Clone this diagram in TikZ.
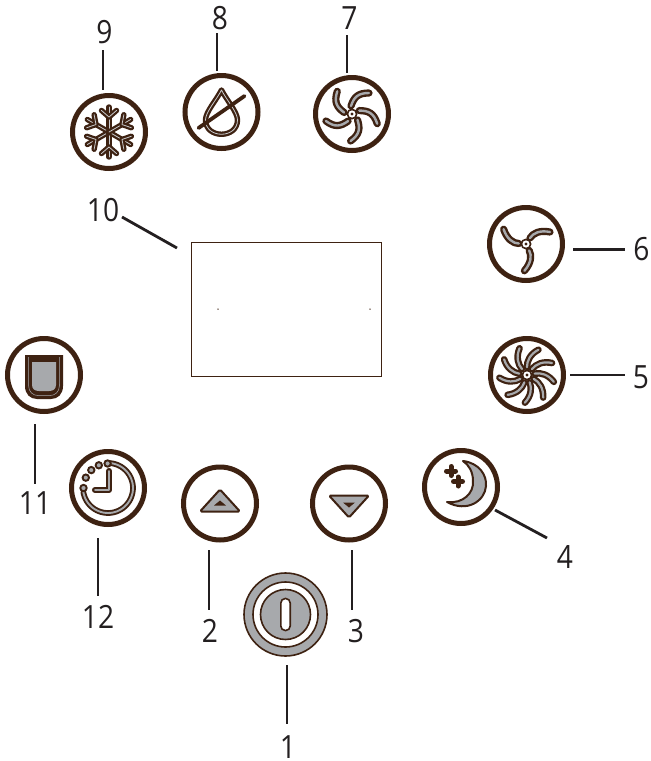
\documentclass[tikz,border=0pt]{standalone}
\usepackage{fontspec}
\setmainfont[FakeStretch=0.88]{Open Sans}
\definecolor{brn}{HTML}{3E2212}
\definecolor{gry}{HTML}{A7A9AC}
\definecolor{lnk}{HTML}{231F20}
\tikzset{
 btn/.style={circle,draw=brn,line width=5pt,fill=white,minimum size=73pt,inner sep=0pt,outer sep=0pt},
 lab/.style={font=\fontsize{32}{32}\selectfont,text=lnk,inner sep=0pt},
 conn/.style={draw=lnk,line width=2.8pt},
 blade/.style={draw=brn,line width=2.4pt,double=gry,double distance=2.4pt,line cap=round,line join=round},
 thinb/.style={draw=brn,line width=2.3pt,double=gry!60!white,double distance=0.8pt,line cap=round,line join=round},
 sym/.style={draw=brn,line width=2pt,fill=gry,line join=round},
}
\newcommand{\hubmark}{\fill[brn] (0,0) circle[radius=5.5pt]; \fill[white] (0,0) circle[radius=3.6pt]; \fill[brn] (0,0) circle[radius=1.6pt];}
\begin{document}
\begin{tikzpicture}[x=1pt,y=-1pt]
\useasboundingbox (0,0) rectangle (651,761);
% buttons
\node[btn] (b9) at (109,132) {};
\node[btn] (b8) at (221.5,112) {};
\node[btn] (b7) at (352,114) {};
\node[btn] (b6) at (526,244) {};
\node[btn] (b5) at (527,375) {};
\node[btn] (b4) at (461,487) {};
\node[btn] (b3) at (349,503.5) {};
\node[btn] (b2) at (220,503.5) {};
\node[btn] (b12) at (108,488) {};
\node[btn] (b11) at (44,375) {};
\node[circle,draw=brn,line width=1.6pt,fill=gry,minimum size=83pt,inner sep=0pt] (b1) at (285.5,614.5) {};
\node[draw=brn,line width=0.8pt,minimum width=190pt,minimum height=134pt,inner sep=0pt] (screen) at (286,309) {};
\node[circle,fill=brn,minimum size=1.5pt,inner sep=0pt] (dotl) at (218,309) {};
\node[circle,fill=brn,minimum size=1.5pt,inner sep=0pt] (dotr) at (370,309) {};
% snowflake
\begin{scope}[shift={(b9.center)}]
\foreach \a in {0,60,...,300}{
 \begin{scope}[rotate=\a]
  \draw[thinb] (0,0) -- (0,-25);
  \draw[thinb] (-7.5,-21.5) -- (0,-15) -- (7.5,-21.5);
 \end{scope}}
\end{scope}
% drop
\begin{scope}[shift={(b8.center)}]
\draw[thinb] (0,-22) .. controls (-5,-12) and (-16,0) .. (-16,8) .. controls (-16,27) and (16,27) .. (16,8) .. controls (16,0) and (5,-12) .. (0,-22) -- cycle;
\draw[brn,line width=3.8pt,line cap=round] (-23,16) -- (23,-16);
\end{scope}
% fan 7
\begin{scope}[shift={(b7.center)}]
\foreach \a in {0,72,...,288}{
 \begin{scope}[rotate=-\a]
  \draw[blade] (-1,-8) .. controls (2,-17) and (6,-21) .. (17,-21);
 \end{scope}}
\hubmark
\end{scope}
% fan 6
\begin{scope}[shift={(b6.center)}]
\foreach \a in {0,120,240}{
 \begin{scope}[rotate=-\a]
  \draw[blade] (4,-6) .. controls (7,-11) and (14,-14) .. (24,-12);
 \end{scope}}
\hubmark
\end{scope}
% fan 5
\begin{scope}[shift={(b5.center)}]
\foreach \a in {0,40,...,320}{
 \begin{scope}[rotate=-\a]
  \draw[blade,line width=2.2pt,double distance=2.2pt] (5,-6) .. controls (9,-11) and (16,-14) .. (25,-12);
 \end{scope}}
\hubmark
\end{scope}
% moon
\begin{scope}[shift={(b4.center)}]
\draw[sym] (2,-26) .. controls (18,-24) and (26,-12) .. (25,-1) .. controls (24,14) and (6,26) .. (-14,15) .. controls (2,17) and (13,6) .. (12,-6) .. controls (12,-15) and (8,-22) .. (2,-26) -- cycle;
\draw[brn,line width=5pt,line cap=round] (-14.5,-16) -- (-5.5,-16) (-10,-20.5) -- (-10,-11.5);
\draw[brn,line width=5pt,line cap=round] (-7.5,-5.5) -- (1.5,-5.5) (-3,-10) -- (-3,-1);
\end{scope}
% triangle buttons
\begin{scope}[shift={(b2.center)}]
\draw[sym,rounded corners=1.5pt] (0,-14) -- (20,8) -- (-20,8) -- cycle;
\fill[brn] (0,-3) -- (6,2) -- (-6,2) -- cycle;
\end{scope}
\begin{scope}[shift={(b3.center)}]
\draw[sym,rounded corners=1.5pt] (-20,-8) -- (20,-8) -- (0,14) -- cycle;
\fill[brn] (-6,-1) -- (6,-1) -- (0,4) -- cycle;
\end{scope}
% power
\begin{scope}[shift={(b1.center)}]
\draw[draw=brn,line width=1.6pt,fill=white] (0,0) circle[radius=32.5pt];
\draw[draw=brn,line width=1.6pt,fill=gry] (0,0) circle[radius=25pt];
\draw[draw=brn,line width=1.6pt,fill=white,rounded corners=4.5pt] (-4.7,-16) rectangle (4.7,16);
\end{scope}
% tank
\begin{scope}[shift={(b11.center)}]
\fill[brn] (-19,-20) -- (19,-20) -- (19,11) .. controls (19,19) and (14,24) .. (7,24) -- (-7,24) .. controls (-14,24) and (-19,19) .. (-19,11) -- cycle;
\draw[gry,line width=0.5pt] (-15.5,-18) -- (-15.5,10) .. controls (-15.5,17) and (-11,20.5) .. (-6,20.5) -- (6,20.5) .. controls (11,20.5) and (15.5,17) .. (15.5,10) -- (15.5,-18);
\fill[gry] (-12,-13) -- (12,-13) -- (12,10) .. controls (12,14) and (9,16) .. (5,16) -- (-5,16) .. controls (-9,16) and (-12,14) .. (-12,10) -- cycle;
\end{scope}
% clock
\begin{scope}[shift={(b12.center)}]
\draw[blade,line width=1.9pt,double distance=1.9pt] plot[domain=-90:170,samples=50] ({25*cos(\x)},{25*sin(\x)});
\foreach \a in {-91,-112,-133,-155,-180}{
 \draw[draw=brn,line width=1.9pt,fill=gry] ({24.5*cos(\a)},{24.5*sin(\a)}) circle[radius=3.2pt];}
\draw[blade,line width=2.1pt,double distance=1.9pt] (1,-17) -- (1,2) -- (-13,2);
\end{scope}
% labels
\node[lab] (l9) at (104.5,32.5) {9};
\node[lab] (l8) at (220,18.5) {8};
\node[lab] (l7) at (349.5,18) {7};
\node[lab] (l10) at (103,210) {10};
\node[lab] (l6) at (641.5,249) {6};
\node[lab] (l5) at (641,377) {5};
\node[lab] (l4) at (565,557) {4};
\node[lab] (l3) at (356,631) {3};
\node[lab] (l2) at (210,631) {2};
\node[lab] (l1) at (288,747.5) {1};
\node[lab] (l12) at (98,617) {12};
\node[lab] (l11) at (35,503) {11};
% connector ends
\coordinate (c9a) at (103,50); \coordinate (c9b) at (103,90);
\coordinate (c8a) at (217,33); \coordinate (c8b) at (217,71);
\coordinate (c7a) at (347,35); \coordinate (c7b) at (347,73);
\coordinate (c10a) at (122,217); \coordinate (c10b) at (177,248);
\coordinate (c6a) at (573,249.5); \coordinate (c6b) at (624.5,249.5);
\coordinate (c5a) at (570,375); \coordinate (c5b) at (624.5,375);
\coordinate (c4a) at (495,510); \coordinate (c4b) at (547,538);
\coordinate (c3a) at (352,550); \coordinate (c3b) at (352,610);
\coordinate (c2a) at (209,550); \coordinate (c2b) at (209,610);
\coordinate (c1a) at (287,665); \coordinate (c1b) at (287,724);
\coordinate (c12a) at (98,538); \coordinate (c12b) at (98,596);
\coordinate (c11a) at (35,424); \coordinate (c11b) at (35,484);
\foreach \n in {9,8,7,10,6,5,4,3,2,1,12,11}{\draw[conn] (c\n a) -- (c\n b);}
\end{tikzpicture}
\end{document}
